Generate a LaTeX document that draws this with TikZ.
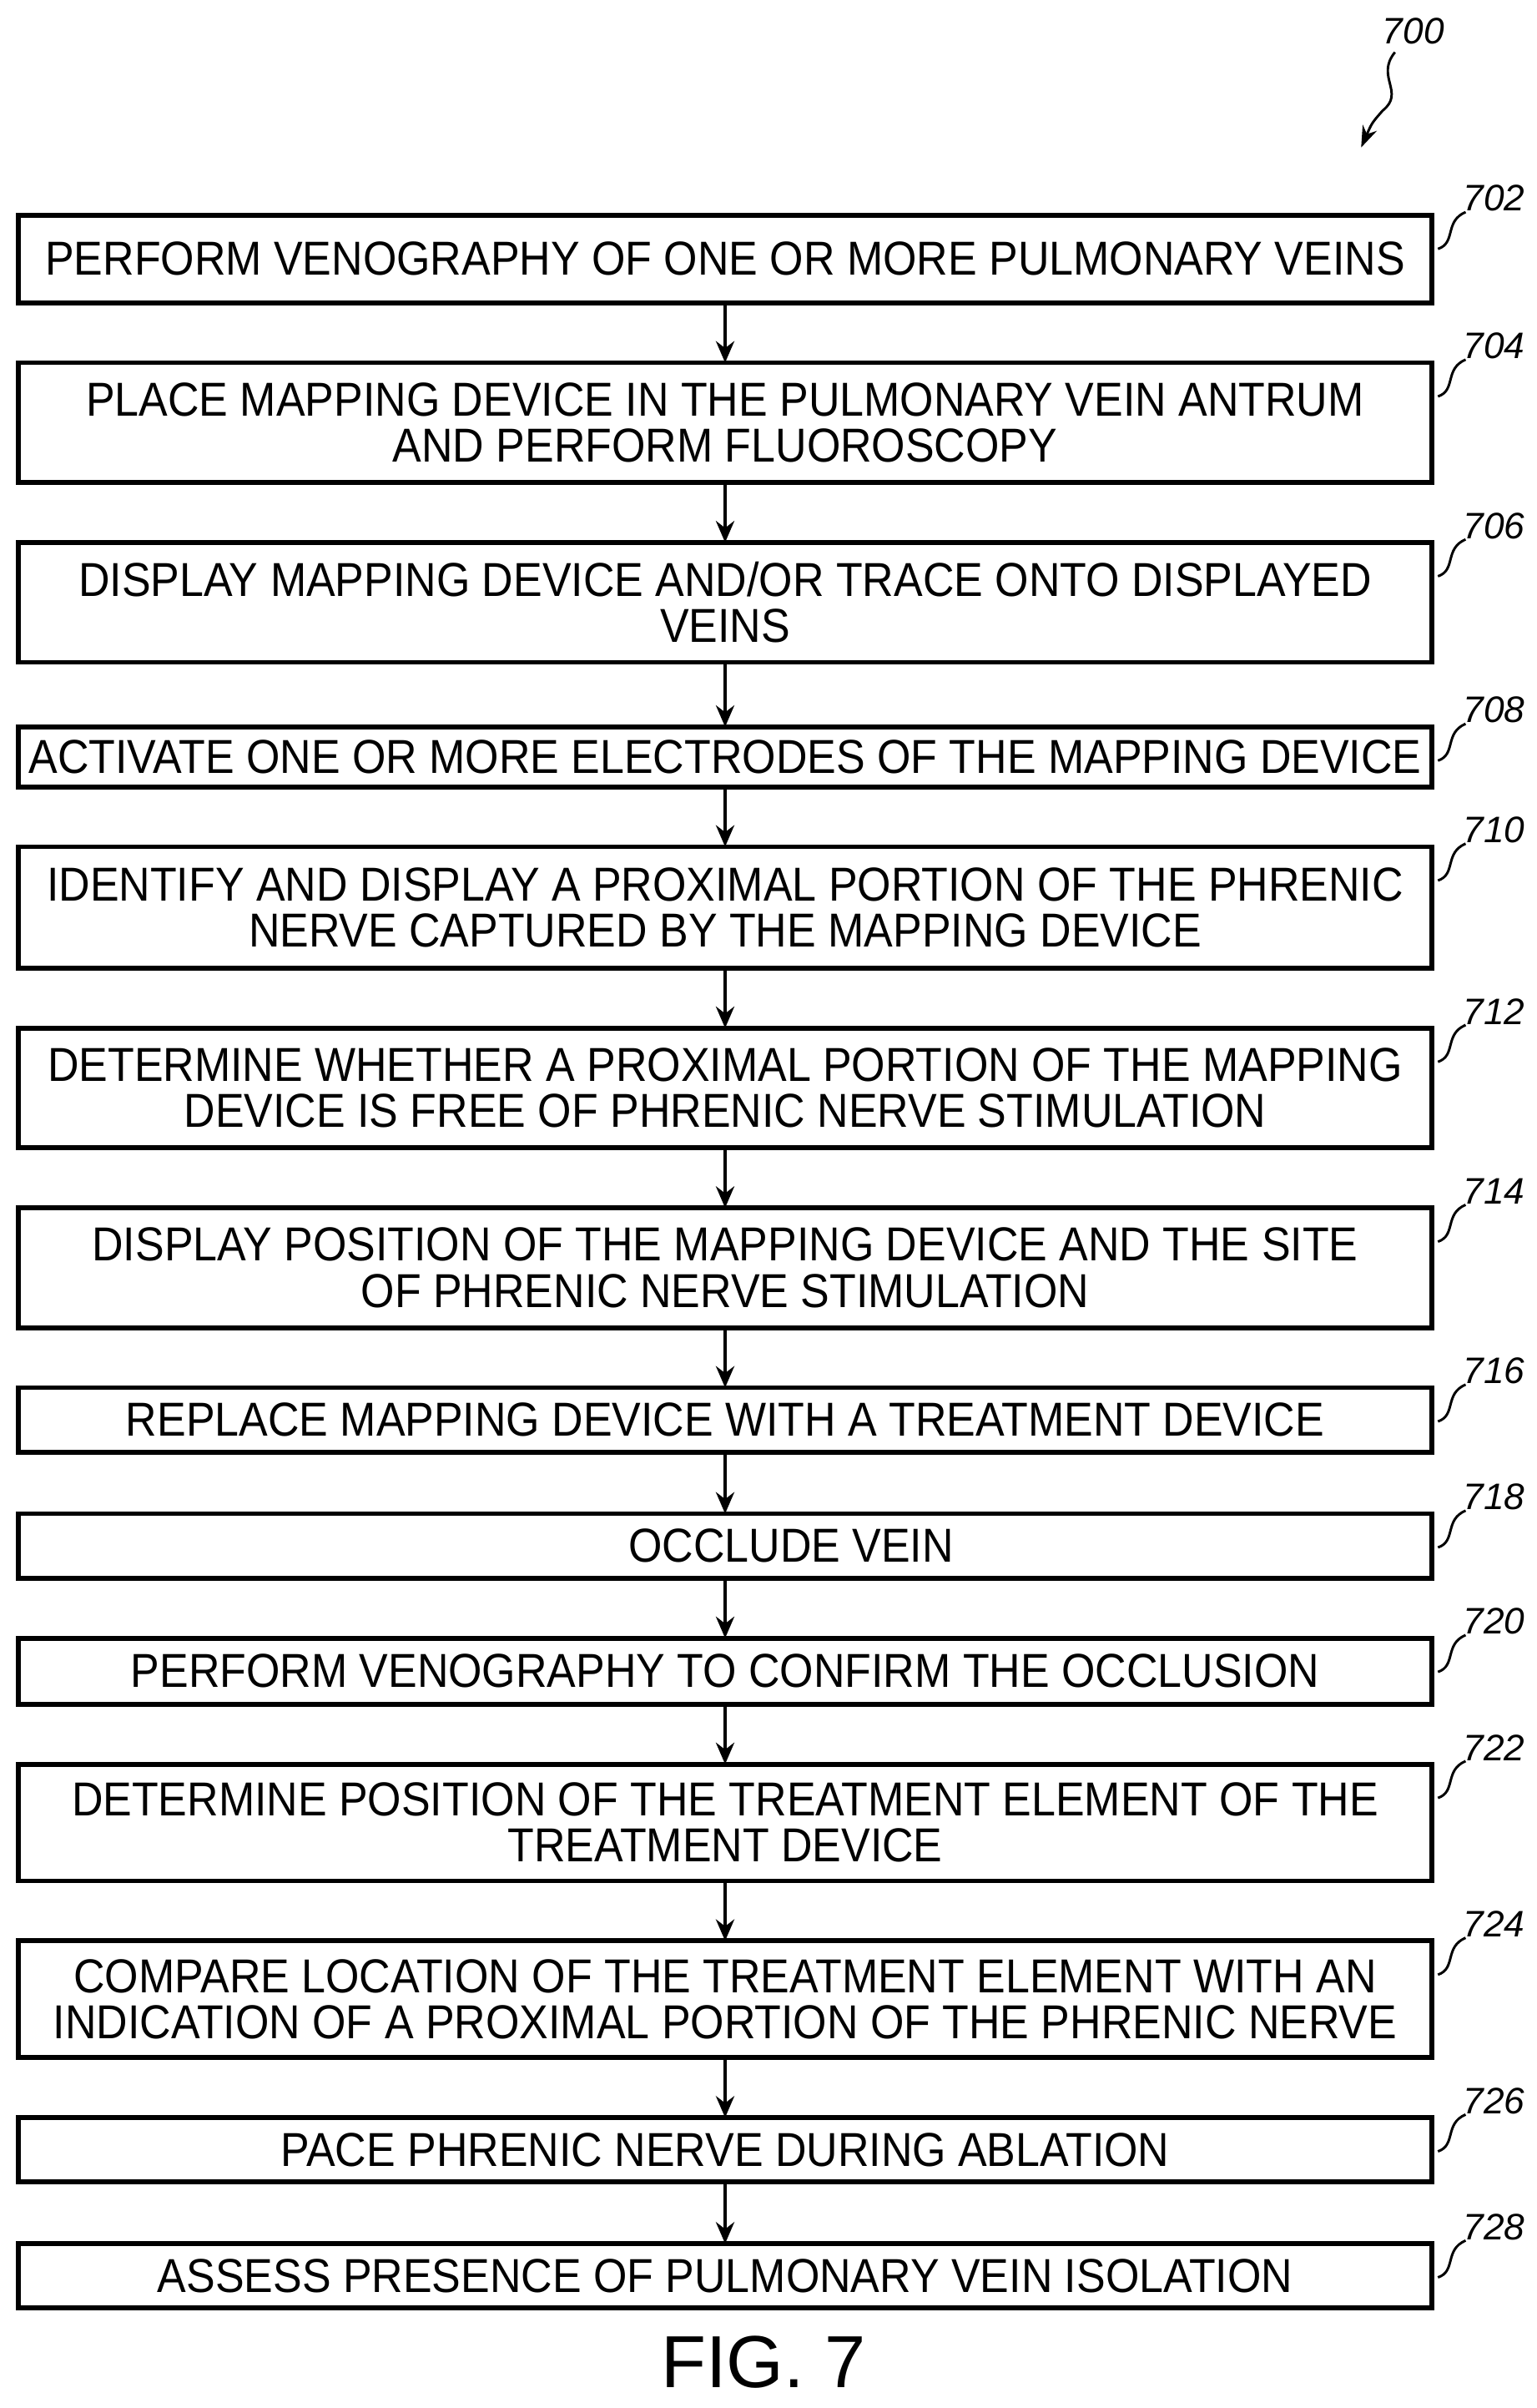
\documentclass[tikz,border=0pt]{standalone}
\usepackage{fontspec}
\setmainfont{Liberation Sans}
\newfontfamily\narrowfont[FakeStretch=0.91]{Liberation Sans}
\usetikzlibrary{arrows.meta}
\begin{document}
\begin{tikzpicture}[x=0.5pt,y=-0.5pt,
 stepbox/.style={draw,line width=1.6pt,fill=white},
 txt/.style={align=center,font=\narrowfont\fontsize{15.5}{15}\selectfont,inner sep=0pt},
 lbl/.style={font=\itshape\fontsize{12}{12}\selectfont,inner sep=0pt,anchor=south west},
 arr/.style={-{Stealth[length=7pt,width=6pt]},line width=1pt}]
\useasboundingbox (0,0) rectangle (1000,1567);
\def\B#1#2#3#4{%
 \draw[stepbox] (12,#2) rectangle (932,#3);
 \node[txt] (t#1) at (472,{(#2+#3)/2}) {#4};
 \coordinate (top#1) at (472,#2);
 \coordinate (bot#1) at (472,#3);
 \node[lbl] (l#1) at (952,#2-2) {#1};
 \draw[line width=0.8pt] (936,#2+22) .. controls (948,#2+18) and (940,#2+4) .. (954,#2-2);
}
\B{702}{140}{197}{PERFORM VENOGRAPHY OF ONE OR MORE PULMONARY VEINS}
\B{704}{236}{314}{PLACE MAPPING DEVICE IN THE PULMONARY VEIN ANTRUM\\AND PERFORM FLUOROSCOPY}
\B{706}{353}{431}{DISPLAY MAPPING DEVICE AND/OR TRACE ONTO DISPLAYED\\VEINS}
\B{708}{473}{512}{ACTIVATE ONE OR MORE ELECTRODES OF THE MAPPING DEVICE}
\B{710}{551}{630}{IDENTIFY AND DISPLAY A PROXIMAL PORTION OF THE PHRENIC\\NERVE CAPTURED BY THE MAPPING DEVICE}
\B{712}{669}{747}{DETERMINE WHETHER A PROXIMAL PORTION OF THE MAPPING\\DEVICE IS FREE OF PHRENIC NERVE STIMULATION}
\B{714}{786}{864}{DISPLAY POSITION OF THE MAPPING DEVICE AND THE SITE\\OF PHRENIC NERVE STIMULATION}
\B{716}{903}{945}{REPLACE MAPPING DEVICE WITH A TREATMENT DEVICE}
\B{718}{985}{1027}{\hspace*{43pt}OCCLUDE VEIN}
\B{720}{1066}{1109}{PERFORM VENOGRAPHY TO CONFIRM THE OCCLUSION}
\B{722}{1148}{1224}{DETERMINE POSITION OF THE TREATMENT ELEMENT OF THE\\TREATMENT DEVICE}
\B{724}{1263}{1339}{COMPARE LOCATION OF THE TREATMENT ELEMENT WITH AN\\INDICATION OF A PROXIMAL PORTION OF THE PHRENIC NERVE}
\B{726}{1378}{1420}{PACE PHRENIC NERVE DURING ABLATION}
\B{728}{1460}{1502}{ASSESS PRESENCE OF PULMONARY VEIN ISOLATION}
\foreach \a/\b in {702/704,704/706,706/708,708/710,710/712,712/714,714/716,716/718,718/720,720/722,722/724,724/726,726/728}
 \draw[arr] (bot\a) -- (top\b);
\node[font=\fontsize{24}{24}\selectfont,inner sep=0pt] (fig) at (497,1537) {FIG. 7};
\node[lbl,anchor=center] (n700) at (920,20) {700};
\coordinate (e700) at (886,96);
\draw[line width=0.8pt,-{Stealth[length=7pt,width=5pt]}] (908,34) .. controls (895,50) and (915,60) .. (900,72) .. controls (893,80) .. (e700);
\end{tikzpicture}
\end{document}
